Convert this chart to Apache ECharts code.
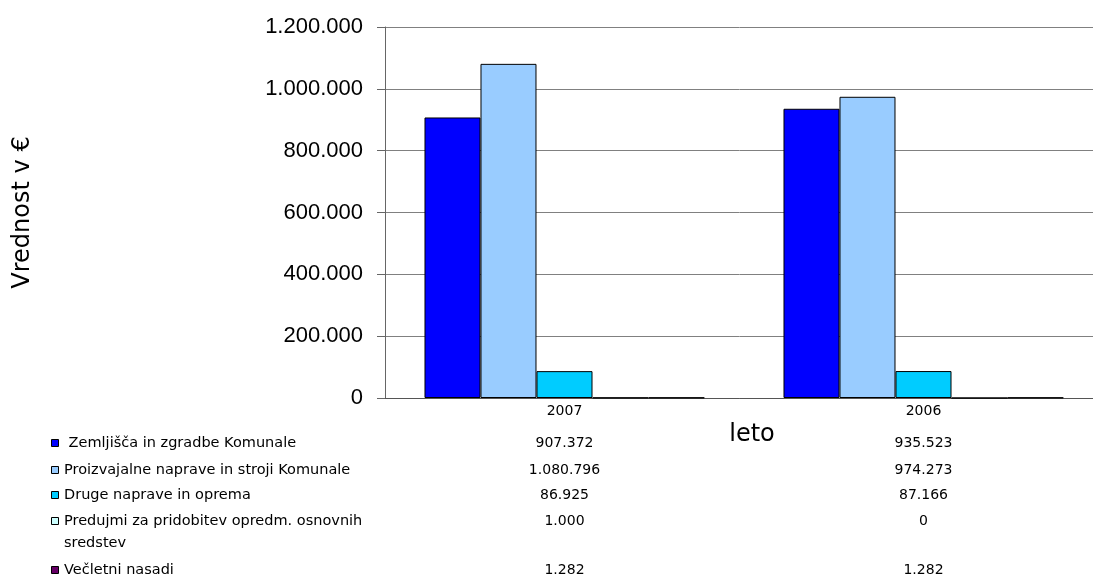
<!DOCTYPE html>
<html>
<head>
<meta charset="utf-8">
<title>Vrednost</title>
<script src="https://cdn.jsdelivr.net/npm/echarts@6/dist/echarts.min.js"></script>
<style>
  html, body { margin: 0; padding: 0; background: #fff; }
  #chart { width: 1093px; height: 576px; }
</style>
</head>
<body>
<div id="chart"></div>
<script>
// podatki iz grafa
var categories = ['2007', '2006']
var seriesNames = [
  ' Zemljišča in zgradbe Komunale',
  'Proizvajalne naprave in stroji Komunale',
  'Druge naprave in oprema',
  'Predujmi za pridobitev opredm. osnovnih\nsredstev',
  'Večletni nasadi'
]
var zemljisca = [907372, 935523]
var proizvajalne = [1080796, 974273]
var druge = [86925, 87166]
var predujmi = [1000, 0]
var vecletni = [1282, 1282]
var yTicks = [0, 200000, 400000, 600000, 800000, 1000000, 1200000]

var colors = ['#0000ff', '#99ccff', '#00ccff', '#ccffff', '#660066']
var values = [zemljisca, proizvajalne, druge, predujmi, vecletni]
var rowY = [443, 470, 495, 521, 570] // vrstice tabele pod grafom

function fmt(n) {
  return String(n).replace(/\B(?=(\d{3})+(?!\d))/g, '.')
}

var chart = echarts.init(document.getElementById('chart'))

var option = {
  animation: false,
  color: colors,
  grid: {
    left: 385, top: 27, bottom: 178, width: 718,
    containLabel: false,
    outerBoundsMode: 'none' // risba sega malo čez desni rob
  },
  xAxis: {
    type: 'category',
    data: categories,
    name: 'leto',
    nameLocation: 'middle',
    nameGap: 8,
    nameTextStyle: {
      fontFamily: 'DejaVu Sans', fontSize: 24, color: '#000',
      verticalAlign: 'top', padding: [0, 0, 0, 16]
    },
    axisLine: { lineStyle: { color: '#555', width: 1 } },
    axisTick: { show: false },
    axisLabel: { fontFamily: 'DejaVu Sans', fontSize: 14, color: '#000', margin: 6 }
  },
  yAxis: {
    type: 'value',
    min: yTicks[0],
    max: yTicks[yTicks.length - 1],
    interval: yTicks[1] - yTicks[0],
    name: 'Vrednost v €',
    nameLocation: 'middle',
    nameGap: 350,
    nameRotate: 90,
    nameTextStyle: { fontFamily: 'DejaVu Sans', fontSize: 24, color: '#000' },
    axisLine: { show: true, lineStyle: { color: '#666', width: 1 } },
    axisTick: { show: true, length: 8, lineStyle: { color: '#666' } },
    axisLabel: {
      fontFamily: 'Liberation Sans', fontSize: 22, color: '#000', margin: 22,
      formatter: function (v) { return fmt(v) }
    },
    splitLine: { show: true, lineStyle: { color: '#808080', width: 1 } }
  },
  series: values.map(function (arr, i) {
    return {
      name: seriesNames[i],
      type: 'bar',
      data: arr,
      barGap: '0%',
      barCategoryGap: '22%',
      itemStyle: { color: colors[i], borderColor: '#000', borderWidth: 1 }
    }
  })
}

chart.setOption(option)

// tabela podatkov pod grafom
var graphics = []
seriesNames.forEach(function (name, i) {
  graphics.push({
    type: 'rect',
    shape: { x: 51.5, y: rowY[i] - 3.5, width: 7, height: 7 },
    style: { fill: colors[i], stroke: '#000', lineWidth: 1 }
  })
  graphics.push({
    type: 'text',
    x: 64,
    y: rowY[i] - 11,
    style: {
      text: name,
      fontFamily: 'DejaVu Sans',
      fontSize: 14.5,
      lineHeight: 22,
      fill: '#000',
      verticalAlign: 'top'
    }
  })
  categories.forEach(function (c, j) {
    var px = chart.convertToPixel({ xAxisIndex: 0 }, c)
    graphics.push({
      type: 'text',
      x: px,
      y: rowY[i],
      style: {
        text: fmt(values[i][j]),
        fontFamily: 'DejaVu Sans',
        fontSize: 14,
        fill: '#000',
        align: 'center',
        verticalAlign: 'middle'
      }
    })
  })
})

chart.setOption({ graphic: graphics })
</script>
</body>
</html>
